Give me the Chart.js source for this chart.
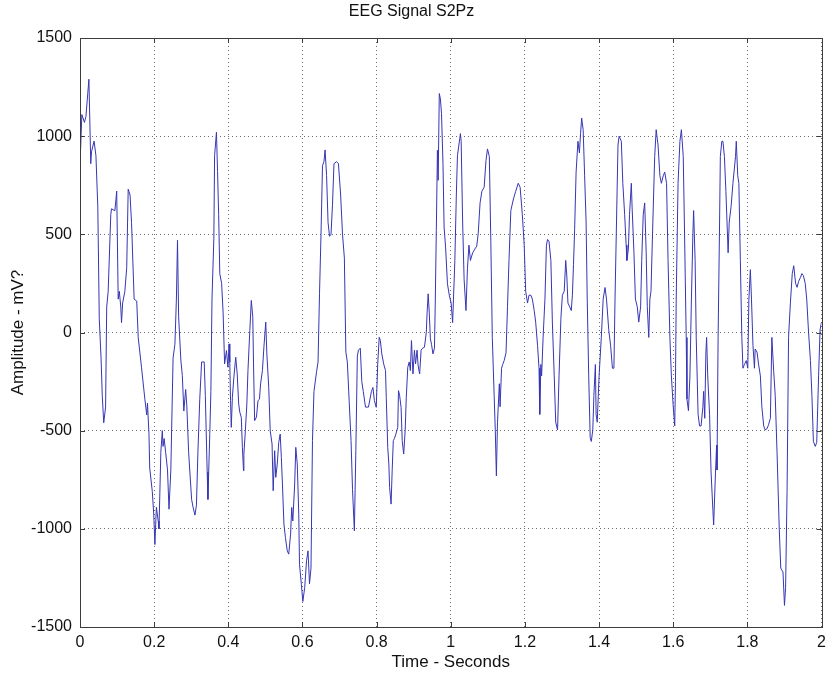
<!DOCTYPE html>
<html>
<head>
<meta charset="utf-8">
<script src="https://cdn.jsdelivr.net/npm/chart.js@4.4.1/dist/chart.umd.min.js"></script>
<style>
html,body{margin:0;padding:0;background:#fff;}
#c{display:block;}
</style>
</head>
<body>
<canvas id="c" width="834" height="677"></canvas>
<script>
const chartTitle = "EEG Signal S2Pz";
const xAxisTitle = "Time - Seconds";
const yAxisTitle = "Amplitude - mV?";
const xTicks = [0, 0.2, 0.4, 0.6, 0.8, 1, 1.2, 1.4, 1.6, 1.8, 2];
const yTicks = [-1500, -1000, -500, 0, 500, 1000, 1500];

const timeSec = [
0.000,0.005,0.012,0.016,0.024,0.029,0.031,0.038,0.043,0.048,0.052,0.057,0.060,0.064,0.069,0.072,0.076,0.083,0.085,0.094,
0.099,0.103,0.106,0.110,0.112,0.115,0.121,0.126,0.130,0.135,0.139,0.146,0.153,0.157,0.166,0.175,0.180,0.182,0.186,0.188,
0.195,0.199,0.202,0.206,0.211,0.213,0.218,0.222,0.224,0.227,0.231,0.236,0.240,0.245,0.251,0.256,0.260,0.263,0.266,0.272,
0.276,0.280,0.285,0.288,0.293,0.301,0.305,0.310,0.314,0.318,0.323,0.328,0.335,0.338,0.343,0.345,0.350,0.353,0.356,0.361,
0.363,0.368,0.371,0.374,0.377,0.382,0.386,0.390,0.395,0.399,0.402,0.404,0.406,0.408,0.411,0.415,0.420,0.424,0.428,0.431,
0.435,0.438,0.441,0.442,0.446,0.450,0.453,0.458,0.462,0.466,0.468,0.471,0.476,0.480,0.484,0.487,0.492,0.496,0.501,0.504,
0.509,0.513,0.518,0.521,0.525,0.528,0.532,0.536,0.540,0.543,0.546,0.550,0.554,0.559,0.563,0.568,0.571,0.574,0.579,0.582,
0.586,0.590,0.592,0.597,0.601,0.606,0.611,0.615,0.619,0.623,0.627,0.631,0.638,0.642,0.646,0.650,0.654,0.658,0.661,0.665,
0.669,0.673,0.677,0.681,0.685,0.692,0.697,0.703,0.708,0.713,0.717,0.721,0.726,0.731,0.735,0.740,0.744,0.748,0.751,0.756,
0.760,0.764,0.770,0.778,0.786,0.790,0.794,0.799,0.803,0.807,0.810,0.814,0.819,0.824,0.826,0.830,0.833,0.835,0.839,0.842,
0.845,0.848,0.852,0.857,0.859,0.862,0.866,0.869,0.873,0.877,0.880,0.884,0.888,0.891,0.894,0.898,0.902,0.905,0.909,0.912,
0.916,0.920,0.924,0.929,0.934,0.936,0.939,0.942,0.945,0.948,0.952,0.956,0.958,0.961,0.964,0.966,0.969,0.972,0.975,0.979,
0.982,0.986,0.991,0.996,1.001,1.005,1.011,1.015,1.018,1.026,1.028,1.032,1.036,1.041,1.045,1.049,1.053,1.059,1.065,1.070,
1.074,1.079,1.084,1.090,1.095,1.099,1.104,1.108,1.112,1.117,1.120,1.123,1.126,1.131,1.133,1.137,1.140,1.144,1.149,1.153,
1.157,1.162,1.169,1.175,1.182,1.187,1.193,1.198,1.202,1.207,1.211,1.216,1.220,1.225,1.229,1.234,1.238,1.240,1.243,1.245,
1.249,1.254,1.258,1.261,1.265,1.270,1.274,1.279,1.283,1.288,1.292,1.297,1.301,1.306,1.310,1.313,1.316,1.321,1.325,1.328,
1.331,1.334,1.338,1.343,1.347,1.350,1.353,1.357,1.361,1.365,1.368,1.372,1.376,1.379,1.383,1.386,1.390,1.392,1.395,1.400,
1.406,1.411,1.416,1.420,1.426,1.431,1.436,1.440,1.443,1.447,1.451,1.454,1.460,1.464,1.469,1.473,1.475,1.479,1.482,1.487,
1.489,1.494,1.498,1.503,1.507,1.512,1.515,1.519,1.523,1.527,1.530,1.534,1.537,1.540,1.545,1.550,1.554,1.559,1.564,1.568,
1.573,1.577,1.582,1.586,1.591,1.595,1.600,1.604,1.606,1.608,1.613,1.618,1.622,1.627,1.630,1.635,1.637,1.641,1.645,1.649,
1.653,1.655,1.659,1.662,1.667,1.671,1.675,1.680,1.682,1.685,1.688,1.690,1.693,1.698,1.702,1.707,1.709,1.714,1.717,1.718,
1.721,1.725,1.727,1.731,1.734,1.738,1.742,1.745,1.748,1.751,1.756,1.761,1.768,1.770,1.774,1.777,1.781,1.785,1.788,1.792,
1.797,1.801,1.804,1.808,1.811,1.815,1.819,1.821,1.826,1.830,1.835,1.839,1.844,1.848,1.853,1.857,1.862,1.866,1.871,1.875,
1.880,1.886,1.890,1.896,1.900,1.903,1.907,1.911,1.916,1.921,1.925,1.930,1.934,1.938,1.943,1.947,1.951,1.956,1.960,1.965,
1.970,1.974,1.978,1.983,1.987,1.992,1.996,2.000
];

const amplitude = [
850,1110,1070,1100,1290,860,920,975,900,640,70,-140,-320,-460,-380,130,210,600,630,620,
720,170,210,130,50,150,210,330,730,700,560,170,160,-25,-180,-340,-420,-360,-515,-690,
-810,-930,-1080,-890,-960,-1000,-610,-500,-580,-540,-610,-700,-900,-700,-130,-60,170,470,80,-140,
-220,-400,-290,-370,-610,-850,-890,-930,-880,-610,-340,-150,-150,-320,-710,-850,-520,-300,170,480,
900,1020,820,600,300,250,100,-160,-92,-177,-58,-150,-347,-483,-330,-228,-126,-211,-364,-406,
-432,-585,-704,-620,-500,-364,-194,10,163,78,-160,-449,-430,-347,-340,-262,-194,-75,53,-109,
-279,-500,-568,-806,-602,-738,-670,-560,-517,-636,-772,-976,-1044,-1112,-1129,-1027,-891,-960,-772,-585,
-670,-925,-1180,-1282,-1370,-1300,-1163,-1112,-1280,-1200,-550,-300,-200,-150,200,500,850,870,930,800,
560,490,500,650,860,870,860,700,500,380,-100,-150,-350,-550,-800,-1010,-600,-120,-90,-80,
-250,-300,-380,-380,-300,-280,-347,-381,-160,-24,-40,-109,-160,-194,-330,-585,-670,-789,-874,-700,
-551,-540,-517,-483,-296,-320,-381,-551,-619,-500,-330,-177,-150,-194,-41,-211,-90,-160,-90,-170,
-211,-90,-80,-75,0,95,197,100,-32,-60,-109,-80,129,520,928,775,1217,1190,1115,860,
537,435,248,190,150,50,367,700,900,1013,974,563,270,112,327,445,367,406,425,440,
504,660,720,740,876,935,896,464,-25,-320,-496,-730,-457,-261,-378,-182,-163,-143,-104,131,
367,621,680,719,760,740,600,445,210,150,190,190,170,112,53,-65,-182,-417,-163,-221,
-25,170,445,474,464,367,53,-221,-457,-496,-221,72,190,210,367,288,150,130,112,190,
347,523,817,974,915,1013,1092,1033,798,563,170,-221,-535,-555,-496,-320,-163,-417,-457,-221,
-25,170,229,170,14,-65,-182,-182,170,563,955,1000,974,760,600,445,367,425,600,760,
640,406,170,131,53,131,367,600,660,406,131,-25,170,210,563,896,1033,955,798,760,
798,817,760,367,-25,-221,-378,-476,-250,170,760,974,1033,896,563,-25,-339,-398,-221,170,
504,621,367,-25,-417,-476,-476,-378,-300,-437,-104,-25,-221,-417,-711,-907,-980,-711,-574,-700,
-25,563,896,974,974,896,719,563,406,563,641,760,896,974,798,760,367,-25,-182,-163,
-143,-182,170,320,170,-65,-182,-84,-100,-160,-221,-378,-476,-496,-490,-470,-437,-25,-200,-320,
-613,-1005,-1200,-1220,-1390,-1300,-809,-25,151,300,340,250,230,260,280,300,290,250,170,0,
-143,-320,-555,-580,-560,-221,14,53
];

const points = timeSec.map((t, i) => ({x: t, y: amplitude[i]}));

const FONT = "'Liberation Sans', Arial, Helvetica, sans-serif";
const AXIS_COLOR = '#3c3c3c';
const GRID_COLOR = 'rgba(70,70,70,0.8)';

const matlabBox = {
  id: 'matlabBox',
  afterDraw(chart) {
    const {ctx, chartArea: a, scales} = chart;
    ctx.save();
    ctx.strokeStyle = AXIS_COLOR;
    ctx.lineWidth = 1;
    const L = 5;
    ctx.beginPath();
    scales.x.ticks.forEach(t => {
      const px = Math.round(scales.x.getPixelForValue(t.value)) + 0.5;
      ctx.moveTo(px, a.bottom); ctx.lineTo(px, a.bottom - L);
      ctx.moveTo(px, a.top); ctx.lineTo(px, a.top + L);
    });
    scales.y.ticks.forEach(t => {
      const py = Math.round(scales.y.getPixelForValue(t.value)) + 0.5;
      ctx.moveTo(a.left, py); ctx.lineTo(a.left + L, py);
      ctx.moveTo(a.right, py); ctx.lineTo(a.right - L, py);
    });
    ctx.stroke();
    ctx.strokeRect(Math.round(a.left) + 0.5, Math.round(a.top) + 0.5,
                   Math.round(a.right - a.left), Math.round(a.bottom - a.top));
    ctx.restore();
  }
};

new Chart(document.getElementById('c'), {
  type: 'line',
  data: {
    datasets: [{
      data: points,
      borderColor: '#3636b4',
      borderWidth: 1,
      pointRadius: 0,
      tension: 0,
      fill: false
    }]
  },
  options: {
    responsive: false,
    animation: false,
    parsing: false,
    layout: {padding: {left: 0, right: 11, top: 3, bottom: 0}},
    plugins: {
      legend: {display: false},
      tooltip: {enabled: false},
      title: {
        display: true,
        text: chartTitle,
        color: '#111',
        font: {family: FONT, size: 16, weight: 'normal', lineHeight: 1.1},
        padding: {top: 0, bottom: 17.4}
      }
    },
    scales: {
      x: {
        type: 'linear',
        min: 0, max: 2,
        afterBuildTicks: s => { s.ticks = xTicks.map(v => ({value: v})); },
        ticks: {
          color: '#111',
          font: {family: FONT, size: 16, lineHeight: 1.0},
          padding: 8,
          maxRotation: 0,
          callback: v => String(Number(v.toFixed(1)))
        },
        grid: {color: GRID_COLOR, drawTicks: false, lineWidth: 1},
        border: {display: false, dash: [1, 3]},
        title: {display: true, text: xAxisTitle, color: '#111', font: {family: FONT, size: 17, lineHeight: 1.0}, padding: {top: 0, bottom: 6}},
        afterFit: s => { s.height = 50; }
      },
      y: {
        type: 'linear',
        min: -1500, max: 1500,
        afterBuildTicks: s => { s.ticks = yTicks.map(v => ({value: v})); },
        ticks: {
          color: '#111',
          font: {family: FONT, size: 16},
          padding: 8,
          callback: v => String(v)
        },
        grid: {color: GRID_COLOR, drawTicks: false, lineWidth: 1},
        border: {display: false, dash: [1, 3]},
        title: {display: true, text: yAxisTitle, color: '#111', font: {family: FONT, size: 17, lineHeight: 1.0}, padding: {top: 10, bottom: 0}},
        afterFit: s => { s.width = 80; }
      }
    }
  },
  plugins: [matlabBox]
});
</script>
</body>
</html>
